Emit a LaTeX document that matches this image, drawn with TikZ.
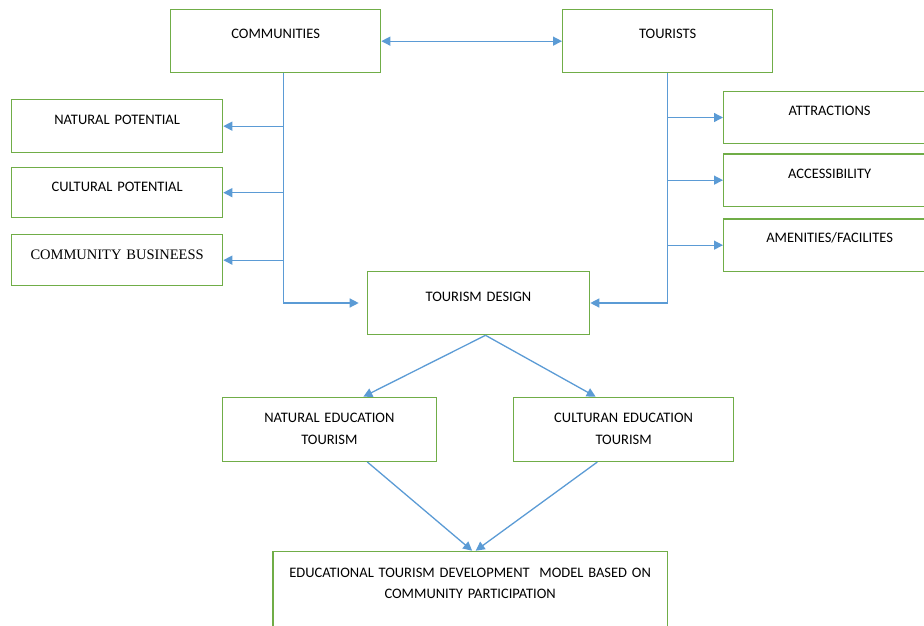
\documentclass[tikz,border=0pt]{standalone}
\usepackage{fontspec}
\setmainfont{Carlito}
\newfontfamily\seriffont{Liberation Serif}
\usetikzlibrary{arrows.meta}
\definecolor{boxline}{HTML}{70AD47}
\definecolor{linkblue}{HTML}{5B9BD5}

\begin{document}
\begin{tikzpicture}[x=1pt, y=-1pt,
    >={Triangle[length=9pt, width=9pt]},
    box/.style={shape=rectangle, draw=boxline, line width=1.3pt, inner sep=0pt,
      anchor=north west, align=center, font=\fontsize{14.5}{22}\selectfont},
    link/.style={draw=linkblue, line width=1.3pt}]
    \useasboundingbox (0,0) rectangle (924,625);
    \clip (0,0) rectangle (924,625);

    % top row
    \node at (170,9) (comm) [box, text width=210pt, text height=28.7pt, text depth=34.3pt] {COMMUNITIES};
    \node at (562,9) (tour) [box, text width=210pt, text height=28.7pt, text depth=34.3pt] {TOURISTS};

    % community side
    \node at (11,99) (nat) [box, text width=211pt, text height=24.7pt, text depth=28.3pt] {NATURAL POTENTIAL};
    \node at (11,167) (cul) [box, text width=211pt, text height=24pt, text depth=26pt] {CULTURAL POTENTIAL};
    \node at (11,234) (bus) [box, text width=211pt, text height=25pt, text depth=26pt] {\seriffont COMMUNITY BUSINEESS};

    % tourist side
    \node at (723,91) (att) [box, text width=212pt, text height=24.2pt, text depth=27.5pt] {ATTRACTIONS};
    \node at (723,153.3) (acc) [box, text width=212pt, text height=24.4pt, text depth=28pt] {ACCESSIBILITY};
    \node at (723,218.3) (ame) [box, text width=212pt, text height=24pt, text depth=28.4pt] {AMENITIES/FACILITES};

    % design and outcomes
    \node at (366.7,270.7) (design) [box, text width=222.3pt, text height=29.8pt, text depth=33.5pt] {TOURISM DESIGN};
    \node at (221.7,396.7) (natedu) [box, text width=214pt, text height=25.3pt, text depth=38.7pt] {NATURAL EDUCATION\\TOURISM};
    \node at (513,396.7) (culedu) [box, text width=220pt, text height=25.3pt, text depth=38.7pt] {CULTURAN EDUCATION\\TOURISM};
    \node at (272.3,550.7) (model) [box, text width=394.4pt, text height=25.7pt, text depth=90pt,
      font=\fontsize{14.5}{21}\selectfont] {EDUCATIONAL TOURISM DEVELOPMENT\ \ MODEL BASED ON\\COMMUNITY PARTICIPATION};

    \coordinate (ctrunk) at ([xshift=8pt]comm.south);

    \draw[link, <->] (comm.east) -- (tour.west);

    \draw[link, ->, shorten >=8pt] (ctrunk) |- (design.west);
    \draw[link, ->] (nat.east -| ctrunk) -- (nat.east);
    \draw[link, ->] (cul.east -| ctrunk) -- (cul.east);
    \draw[link, ->] (bus.east -| ctrunk) -- (bus.east);

    \draw[link, ->] (tour.south) |- (design.east);
    \draw[link, ->] (att.west -| tour.south) -- (att.west);
    \draw[link, ->] (acc.west -| tour.south) -- (acc.west);
    \draw[link, ->] (ame.west -| tour.south) -- (ame.west);

    \draw[link, ->] ([xshift=7pt]design.south) -- ([xshift=34pt]natedu.north);
    \draw[link, ->] ([xshift=7pt]design.south) -- ([xshift=-28pt]culedu.north);
    \draw[link, ->] ([xshift=38pt]natedu.south) -- ([xshift=2pt]model.north);
    \draw[link, ->] ([xshift=-26.3pt]culedu.south) -- ([xshift=5.5pt]model.north);

  \end{tikzpicture}
\end{document}
